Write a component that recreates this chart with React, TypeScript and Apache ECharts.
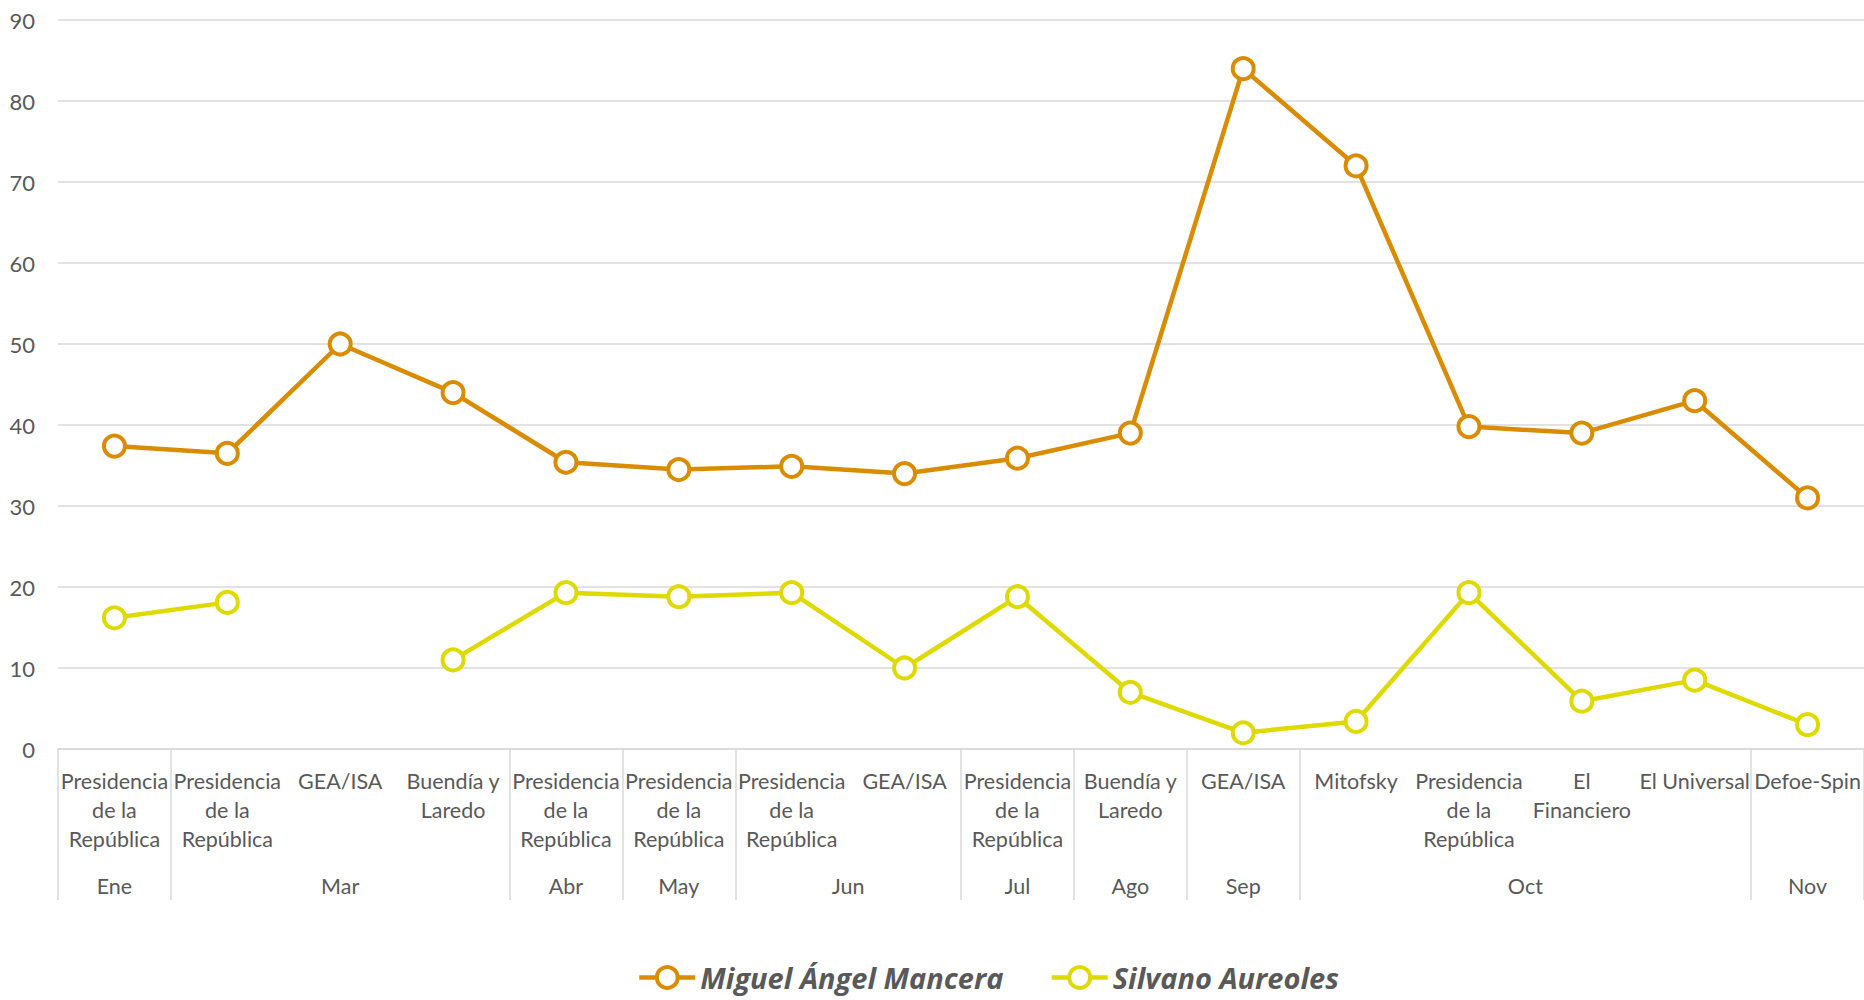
import React, { useEffect, useRef } from "react";
import * as echarts from "echarts";

const categories = [
  "Presidencia\nde la\nRepública",
  "Presidencia\nde la\nRepública",
  "GEA/ISA",
  "Buendía y\nLaredo",
  "Presidencia\nde la\nRepública",
  "Presidencia\nde la\nRepública",
  "Presidencia\nde la\nRepública",
  "GEA/ISA",
  "Presidencia\nde la\nRepública",
  "Buendía y\nLaredo",
  "GEA/ISA",
  "Mitofsky",
  "Presidencia\nde la\nRepública",
  "El\nFinanciero",
  "El Universal",
  "Defoe-Spin",
];

const months = ["Ene", "Mar", "Abr", "May", "Jun", "Jul", "Ago", "Sep", "Oct", "Nov"];
const monthSpans = [1, 3, 1, 1, 2, 1, 1, 1, 4, 1];

const mancera = [37.4, 36.5, 50, 44, 35.4, 34.5, 34.9, 34, 35.9, 39, 84, 72, 39.8, 39, 43, 31];
const aureoles = [16.2, 18.1, null, 11, 19.3, 18.8, 19.3, 10, 18.8, 7, 2, 3.4, 19.3, 5.9, 8.5, 3];

const yTicks = { min: 0, max: 90, interval: 10 };

const ORANGE = "#D98C00";
const YELLOW = "#DEDA00";
const GRID = "#D9D9D9";
const TEXT = "#595959";
const FONT = "Lato, 'Open Sans', sans-serif";
const LEGEND_FONT = "'Open Sans', Lato, sans-serif";

export default function App() {
  const ref = useRef<HTMLDivElement>(null);

  useEffect(() => {
    if (!ref.current) return;
    const chart = echarts.init(ref.current, undefined, { renderer: "svg" });

    const boundaries: number[] = [0];
    const centers: number[] = [];
    let acc = 0;
    monthSpans.forEach((s) => {
      centers.push(acc + s / 2);
      acc += s;
      boundaries.push(acc);
    });

    const mkSeries = (name: string, data: (number | null)[], color: string) => ({
      name,
      type: "line",
      data,
      xAxisIndex: 0,
      yAxisIndex: 0,
      color,
      symbol: "circle",
      symbolSize: 21,
      connectNulls: false,
      lineStyle: { color, width: 4.5 },
      itemStyle: { color: "#ffffff", borderColor: color, borderWidth: 4 },
      emphasis: { disabled: true },
      z: 3,
    });

    const legendItem = (name: string, color: string) => ({
      name,
      lineStyle: { color, width: 4.5 },
      itemStyle: { color: "#ffffff", borderColor: color, borderWidth: 4 },
    });

    chart.setOption({
      animation: false,
      textStyle: { fontFamily: FONT },
      grid: { left: 58, right: -7, top: 20, bottom: 251, containLabel: false },
      legend: {
        left: 632,
        top: 958,
        itemWidth: 56,
        itemHeight: 26,
        itemGap: 46,
        lineStyle: { width: 4.5 },
        textStyle: {
          color: TEXT,
          fontSize: 29,
          fontWeight: "bold",
          fontStyle: "italic",
          fontFamily: LEGEND_FONT,
        },
        data: [
          legendItem("Miguel Ángel Mancera", ORANGE),
          legendItem("Silvano Aureoles", YELLOW),
        ],
      },
      xAxis: [
        {
          type: "category",
          data: categories,
          boundaryGap: true,
          axisLine: { show: true, lineStyle: { color: GRID, width: 1.5 } },
          axisTick: { show: false },
          axisLabel: {
            interval: 0,
            color: TEXT,
            fontSize: 21.5,
            lineHeight: 28.7,
            margin: 18,
            fontFamily: FONT,
          },
          splitLine: { show: false },
        },
        {
          type: "value",
          min: 0,
          max: monthSpans.reduce((a, b) => a + b, 0),
          position: "bottom",
          offset: 0,
          axisLine: { show: false },
          splitLine: { show: false },
          axisTick: {
            show: true,
            customValues: boundaries,
            length: 151,
            lineStyle: { color: GRID, width: 1.5 },
          },
          axisLabel: {
            show: true,
            customValues: centers,
            margin: 126,
            color: TEXT,
            fontSize: 21.5,
            fontFamily: FONT,
            formatter: (v: number) => {
              const i = centers.findIndex((c) => Math.abs(c - v) < 1e-6);
              return i >= 0 ? months[i] : "";
            },
          },
        },
      ],
      yAxis: {
        type: "value",
        min: yTicks.min,
        max: yTicks.max,
        interval: yTicks.interval,
        axisLine: { show: false },
        axisTick: { show: false },
        axisLabel: { color: TEXT, fontSize: 22, margin: 23, fontFamily: FONT },
        splitLine: { lineStyle: { color: GRID, width: 1.5 } },
      },
      series: [
        mkSeries("Miguel Ángel Mancera", mancera, ORANGE),
        mkSeries("Silvano Aureoles", aureoles, YELLOW),
      ],
    });

    return () => chart.dispose();
  }, []);

  return (
    <div
      ref={ref}
      style={{ position: "absolute", left: 0, top: 0, width: 1864, height: 1000, background: "#ffffff" }}
    />
  );
}
